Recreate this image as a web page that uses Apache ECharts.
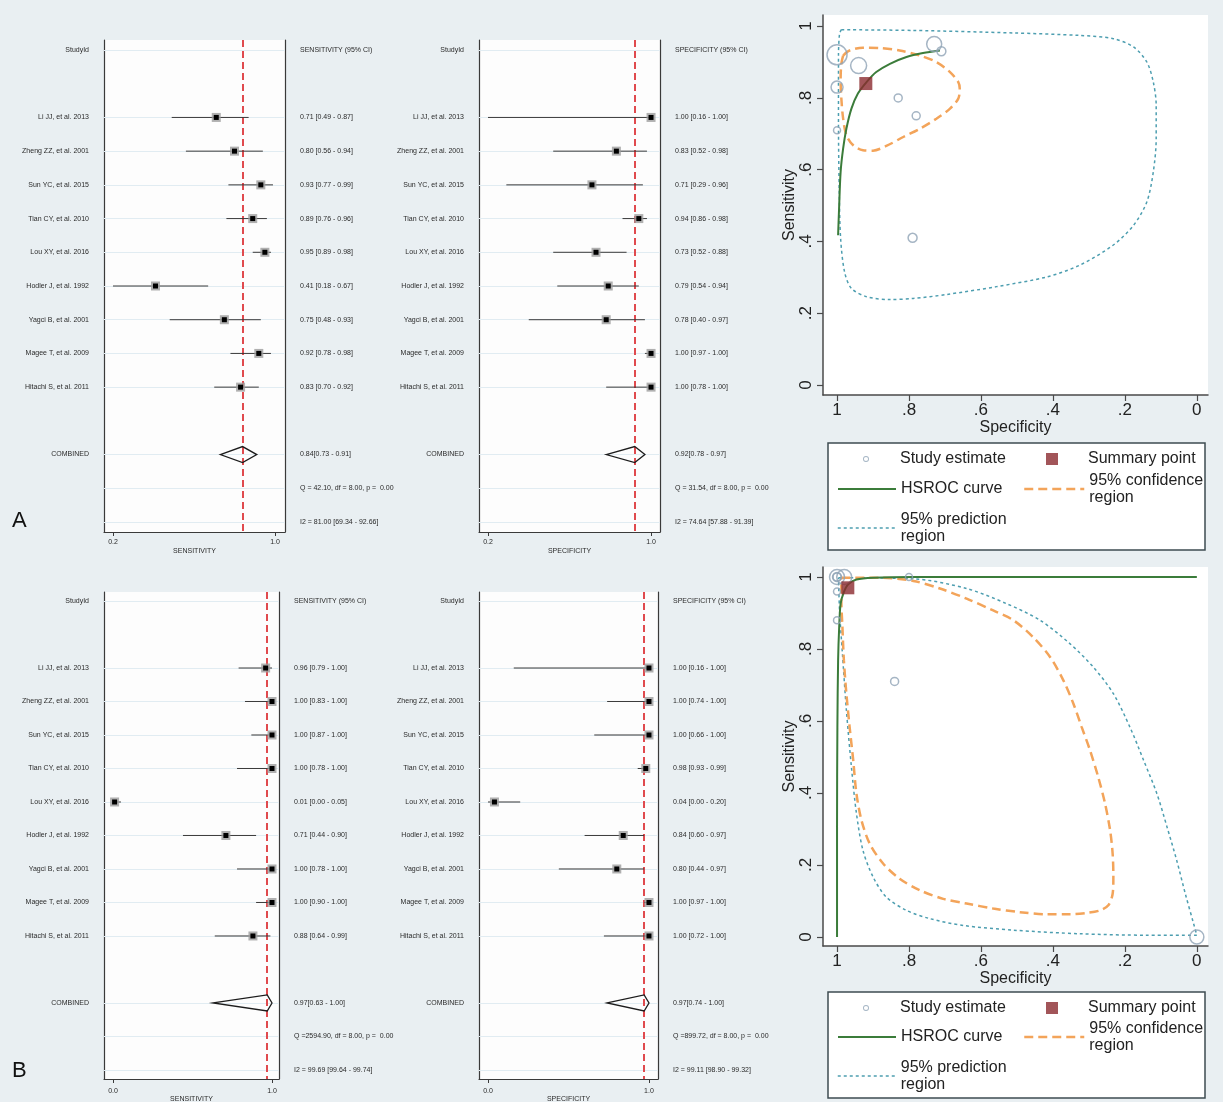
<!DOCTYPE html>
<html>
<head>
<meta charset="utf-8">
<script src="https://cdn.jsdelivr.net/npm/echarts@6/dist/echarts.min.js"></script>
<style>
html, body { margin: 0; padding: 0; background: #e9eff2; }
#main { width: 1223px; height: 1102px; }
</style>
</head>
<body>
<div id="main"></div>
<script>
// studies (rows of the forest plots)
const studies = ['Li JJ, et al. 2013', 'Zheng ZZ, et al. 2001', 'Sun YC, et al. 2015', 'Tian CY, et al. 2010',
  'Lou XY, et al. 2016', 'Hodler J, et al. 1992', 'Yagci B, et al. 2001', 'Magee T, et al. 2009', 'Hitachi S, et al. 2011'];

// A - sensitivity
const sensA = [0.71, 0.80, 0.93, 0.89, 0.95, 0.41, 0.75, 0.92, 0.83];
const sensALo = [0.49, 0.56, 0.77, 0.76, 0.89, 0.18, 0.48, 0.78, 0.70];
const sensAHi = [0.87, 0.94, 0.99, 0.96, 0.98, 0.67, 0.93, 0.98, 0.92];
const sensAPool = [0.84, 0.73, 0.91];
const sensAStats = ['Q = 42.10, df = 8.00, p =  0.00', 'I2 = 81.00 [69.34 - 92.66]'];
// A - specificity
const specA = [1.00, 0.83, 0.71, 0.94, 0.73, 0.79, 0.78, 1.00, 1.00];
const specALo = [0.16, 0.52, 0.29, 0.86, 0.52, 0.54, 0.40, 0.97, 0.78];
const specAHi = [1.00, 0.98, 0.96, 0.98, 0.88, 0.94, 0.97, 1.00, 1.00];
const specAPool = [0.92, 0.78, 0.97];
const specAStats = ['Q = 31.54, df = 8.00, p =  0.00', 'I2 = 74.64 [57.88 - 91.39]'];
// B - sensitivity
const sensB = [0.96, 1.00, 1.00, 1.00, 0.01, 0.71, 1.00, 1.00, 0.88];
const sensBLo = [0.79, 0.83, 0.87, 0.78, 0.00, 0.44, 0.78, 0.90, 0.64];
const sensBHi = [1.00, 1.00, 1.00, 1.00, 0.05, 0.90, 1.00, 1.00, 0.99];
const sensBPool = [0.97, 0.63, 1.00];
const sensBStats = ['Q =2594.90, df = 8.00, p =  0.00', 'I2 = 99.69 [99.64 - 99.74]'];
// B - specificity
const specB = [1.00, 1.00, 1.00, 0.98, 0.04, 0.84, 0.80, 1.00, 1.00];
const specBLo = [0.16, 0.74, 0.66, 0.93, 0.00, 0.60, 0.44, 0.97, 0.72];
const specBHi = [1.00, 1.00, 1.00, 0.99, 0.20, 0.97, 0.97, 1.00, 1.00];
const specBPool = [0.97, 0.74, 1.00];
const specBStats = ['Q =899.72, df = 8.00, p =  0.00', 'I2 = 99.11 [98.90 - 99.32]'];

// SROC: study points (spec, sens) as plotted, relative study weight (circle size)
const rocSpecA = [1.00, 0.83, 0.71, 0.94, 0.73, 0.79, 0.78, 1.00, 1.00];
const rocSensA = [0.71, 0.80, 0.93, 0.89, 0.95, 0.41, 0.75, 0.92, 0.83];
const weightA = [0.35, 0.4, 0.45, 0.8, 0.75, 0.45, 0.4, 1.0, 0.6];
const rocSpecB = [1.00, 1.00, 1.00, 0.98, 0.00, 0.84, 0.80, 1.00, 1.00];
const rocSensB = [0.96, 1.00, 1.00, 1.00, 0.00, 0.71, 1.00, 1.00, 0.88];
const weightB = [0.35, 0.75, 0.4, 0.75, 0.7, 0.4, 0.35, 0.45, 0.35];

// curves, [specificity, sensitivity]
const hsrocA = [[0.997, 0.417], [0.994, 0.501], [0.990, 0.594], [0.983, 0.659], [0.974, 0.714], [0.960, 0.770],
  [0.942, 0.812], [0.918, 0.844], [0.891, 0.872], [0.853, 0.895], [0.807, 0.914], [0.761, 0.925], [0.714, 0.932]];
const confA = [[0.983, 0.918], [0.965, 0.932], [0.928, 0.940], [0.881, 0.939], [0.826, 0.932], [0.770, 0.918],
  [0.724, 0.900], [0.686, 0.872], [0.663, 0.844], [0.659, 0.826], [0.663, 0.798], [0.686, 0.770], [0.724, 0.742],
  [0.770, 0.714], [0.816, 0.691], [0.863, 0.666], [0.900, 0.653], [0.928, 0.654], [0.955, 0.668], [0.974, 0.696],
  [0.983, 0.742], [0.988, 0.798], [0.990, 0.853], [0.988, 0.895], [0.983, 0.918]];
const predA = [[0.988, 0.990], [0.788, 0.988], [0.510, 0.981], [0.325, 0.974], [0.232, 0.965], [0.176, 0.942],
  [0.139, 0.900], [0.121, 0.844], [0.113, 0.779], [0.113, 0.686], [0.121, 0.594], [0.139, 0.510], [0.176, 0.445],
  [0.232, 0.390], [0.325, 0.334], [0.417, 0.301], [0.557, 0.274], [0.696, 0.252], [0.788, 0.241], [0.853, 0.238],
  [0.918, 0.246], [0.960, 0.269], [0.979, 0.315], [0.990, 0.408], [0.994, 0.547], [0.996, 0.733], [0.996, 0.918],
  [0.993, 0.979], [0.988, 0.990]];
const hsrocB = [[1.0, 0.0], [1.0, 0.306], [0.999, 0.583], [0.997, 0.769], [0.994, 0.861], [0.990, 0.926],
  [0.981, 0.958], [0.969, 0.980], [0.946, 0.993], [0.900, 0.998], [0.788, 1.0], [0.0, 1.0]];
const confB = [[0.988, 0.998], [0.881, 0.998], [0.788, 0.989], [0.714, 0.968], [0.640, 0.940], [0.566, 0.907],
  [0.510, 0.880], [0.455, 0.833], [0.408, 0.778], [0.371, 0.713], [0.343, 0.648], [0.320, 0.583], [0.297, 0.519],
  [0.274, 0.444], [0.255, 0.370], [0.241, 0.296], [0.234, 0.231], [0.232, 0.167], [0.234, 0.120], [0.246, 0.088],
  [0.269, 0.074], [0.306, 0.067], [0.353, 0.063], [0.417, 0.063], [0.492, 0.069], [0.566, 0.079], [0.640, 0.093],
  [0.705, 0.106], [0.770, 0.130], [0.826, 0.162], [0.872, 0.204], [0.909, 0.259], [0.932, 0.324], [0.946, 0.398],
  [0.955, 0.491], [0.965, 0.583], [0.974, 0.676], [0.981, 0.769], [0.985, 0.861], [0.988, 0.935], [0.988, 0.998]];
const predB = [[0.996, 0.998], [0.788, 0.995], [0.640, 0.968], [0.529, 0.926], [0.436, 0.880], [0.353, 0.815],
  [0.288, 0.750], [0.232, 0.676], [0.186, 0.583], [0.148, 0.491], [0.111, 0.398], [0.083, 0.306], [0.056, 0.213],
  [0.032, 0.120], [0.009, 0.037], [0.0, 0.005], [0.139, 0.005], [0.325, 0.009], [0.510, 0.019], [0.649, 0.032],
  [0.742, 0.051], [0.807, 0.074], [0.863, 0.111], [0.900, 0.167], [0.928, 0.241], [0.946, 0.343], [0.960, 0.472],
  [0.974, 0.630], [0.985, 0.787], [0.993, 0.907], [0.996, 0.998]];

const rocTicks = [0, 0.2, 0.4, 0.6, 0.8, 1];

const FONT = '"Liberation Sans", Arial, Helvetica, sans-serif';
const option = {
  backgroundColor: '#e9eff2',
  animation: false,
  grid: [], xAxis: [], yAxis: [], series: [], legend: [], graphic: []
};

function ci(e, lo, hi, sep) {
  return e.toFixed(2) + sep + lo.toFixed(2) + ' - ' + hi.toFixed(2) + ']';
}

function forestItem(clipLo, clipHi) {
  return function (params, api) {
    const row = api.value(3);
    const pe = api.coord([api.value(0), row]);
    const pl = api.coord([Math.max(api.value(1), clipLo), row]);
    const ph = api.coord([Math.min(api.value(2), clipHi), row]);
    if (api.value(4) === 1) {
      // pooled diamond
      return {
        type: 'polygon',
        shape: { points: [[pl[0], pl[1]], [pe[0], pe[1] - 8], [ph[0], ph[1]], [pe[0], pe[1] + 8]] },
        style: { fill: 'none', stroke: '#1c1c1c', lineWidth: 1.3 }
      };
    }
    return {
      type: 'group',
      children: [
        { type: 'line', shape: { x1: pl[0], y1: pl[1], x2: ph[0], y2: ph[1] }, style: { stroke: '#3a3a3a', lineWidth: 1 } },
        { type: 'rect', shape: { x: pe[0] - 4.5, y: pe[1] - 4.5, width: 9, height: 9 }, style: { fill: '#9c9c9c', opacity: 0.8 } },
        { type: 'rect', shape: { x: pe[0] - 2.5, y: pe[1] - 2.5, width: 5, height: 5 }, style: { fill: '#000' } }
      ]
    };
  };
}

function addForest(p) {
  const gi = option.grid.length;
  option.grid.push({ left: p.left, top: p.top, width: p.width, height: p.height, show: true,
    backgroundColor: '#fdfdfd', borderWidth: 0, containLabel: false, outerBoundsMode: 'none' });
  const xi = option.xAxis.length;
  option.xAxis.push({
    type: 'value', gridIndex: gi, min: p.xMin, max: p.xMax,
    name: p.title, nameLocation: 'middle', nameGap: p.nameGap,
    nameTextStyle: { fontSize: 7, color: '#2a2a2a', fontFamily: FONT },
    axisLine: { show: true, onZero: false, lineStyle: { color: '#3a3a3a', width: 1.2 } },
    axisTick: { show: true, customValues: p.ticks, length: 4, lineStyle: { color: '#3a3a3a' } },
    axisLabel: { customValues: p.ticks, formatter: v => v.toFixed(1), fontSize: 7, color: '#2a2a2a',
      margin: p.labelMargin, fontFamily: FONT },
    splitLine: { show: false }
  });
  const leftText = [], rightText = [];
  leftText[0] = 'StudyId';
  rightText[0] = p.header;
  studies.forEach((s, i) => {
    leftText[i + 2] = s;
    rightText[i + 2] = ci(p.est[i], p.lo[i], p.hi[i], ' [');
  });
  leftText[12] = 'COMBINED';
  rightText[12] = ci(p.pool[0], p.pool[1], p.pool[2], '[');
  rightText[13] = p.stats[0];
  rightText[14] = p.stats[1];
  const rowsL = [0, 2, 3, 4, 5, 6, 7, 8, 9, 10, 12];
  const rowsR = rowsL.concat([13, 14]);
  const yBase = {
    type: 'value', gridIndex: gi, min: p.yMin, max: p.yMax, inverse: true,
    axisTick: { show: false }, splitLine: { show: false },
    axisLine: { show: true, onZero: false, lineStyle: { color: '#3a3a3a', width: 1.2 } }
  };
  const yl = option.yAxis.length;
  option.yAxis.push(Object.assign({}, yBase, { position: 'left',
    axisLabel: { customValues: rowsL, formatter: v => leftText[Math.round(v)] || '', fontSize: 7,
      color: '#2a2a2a', margin: 15, fontFamily: FONT } }));
  option.yAxis.push(Object.assign({}, yBase, { position: 'right',
    axisLabel: { customValues: rowsR, formatter: v => rightText[Math.round(v)] || '', fontSize: 7,
      color: '#2a2a2a', margin: 15, align: 'left', fontFamily: FONT } }));

  // faint row lines + dashed pooled line
  option.series.push({
    type: 'line', xAxisIndex: xi, yAxisIndex: yl, data: [], z: 1, silent: true,
    markLine: {
      silent: true, symbol: 'none', label: { show: false }, animation: false,
      data: rowsR.map(r => ({ yAxis: r, lineStyle: { color: '#e1ecf2', width: 1, type: 'solid' } }))
        .concat([{ xAxis: p.pool[0], lineStyle: { color: '#e04a4e', width: 2, type: [7, 4] } }])
    }
  });
  const data = studies.map((s, i) => [p.est[i], p.lo[i], p.hi[i], i + 2, 0]);
  data.push([p.pool[0], p.pool[1], p.pool[2], 12, 1]);
  option.series.push({
    type: 'custom', xAxisIndex: xi, yAxisIndex: yl, z: 5, silent: true, clip: false,
    renderItem: forestItem(p.ticks[0], p.ticks[1]), data: data
  });
}

function rocLabel(v) {
  if (v === 0) return '0';
  if (v === 1) return '1';
  return String(v).replace('0.', '.');
}

const COL = { study: '#8ea3b5', summary: '#8b2a2f', hsroc: '#3b7c3a', conf: '#f3a45a', pred: '#4d9eb0' };

function addSroc(p) {
  const gi = option.grid.length;
  option.grid.push({ left: 823, top: p.top, width: 385, height: p.height, show: true,
    backgroundColor: '#ffffff', borderWidth: 0, containLabel: false, outerBoundsMode: 'none' });
  const axisCommon = {
    type: 'value', gridIndex: gi, nameLocation: 'middle',
    nameTextStyle: { fontSize: 16, color: '#222', fontFamily: FONT },
    axisLine: { show: true, onZero: false, lineStyle: { color: '#4a4a4a', width: 1.5 } },
    axisTick: { show: true, customValues: rocTicks, length: 6, lineStyle: { color: '#4a4a4a', width: 1.2 } },
    splitLine: { show: false }
  };
  const xi = option.xAxis.length;
  option.xAxis.push(Object.assign({}, axisCommon, {
    min: -0.031, max: 1.039, inverse: true, name: 'Specificity', nameGap: 25,
    axisLabel: { customValues: rocTicks, formatter: rocLabel, fontSize: 17, color: '#222', margin: 7, fontFamily: FONT }
  }));
  const yi = option.yAxis.length;
  option.yAxis.push(Object.assign({}, axisCommon, {
    min: p.yMin, max: p.yMax, name: 'Sensitivity', nameGap: 24, nameRotate: 90,
    axisLabel: { customValues: rocTicks, formatter: rocLabel, fontSize: 17, color: '#222', margin: 8, rotate: 90, fontFamily: FONT }
  }));
  const base = { xAxisIndex: xi, yAxisIndex: yi, silent: true };
  option.series.push(Object.assign({}, base, {
    name: '95% prediction region', type: 'line', data: p.pred, symbol: 'none', smooth: 0.3, z: 2,
    itemStyle: { color: COL.pred }, lineStyle: { color: COL.pred, width: 1.5, type: [3, 3] }
  }));
  option.series.push(Object.assign({}, base, {
    name: '95% confidence region', type: 'line', data: p.conf, symbol: 'none', smooth: 0.3, z: 3,
    itemStyle: { color: COL.conf }, lineStyle: { color: COL.conf, width: 2.5, type: [9, 5] }
  }));
  option.series.push(Object.assign({}, base, {
    name: 'HSROC curve', type: 'line', data: p.hsroc, symbol: 'none', smooth: 0.3, z: 4,
    itemStyle: { color: COL.hsroc }, lineStyle: { color: COL.hsroc, width: 2 }
  }));
  option.series.push(Object.assign({}, base, {
    name: 'Study estimate', type: 'scatter', z: 5,
    data: p.spec.map((s, i) => [s, p.sens[i], p.weight[i]]),
    symbol: 'circle', symbolSize: v => v[2] * 20,
    itemStyle: { color: 'rgba(255,255,255,0)', borderColor: COL.study, borderWidth: 1.5 }
  }));
  option.series.push(Object.assign({}, base, {
    name: 'Summary point', type: 'scatter', z: 6,
    data: [[p.pool[0], p.pool[1]]], symbol: 'rect', symbolSize: 13,
    itemStyle: { color: COL.summary }
  }));

  // legend box + items
  option.graphic.push({ type: 'rect', z: 0, shape: { x: 828, y: p.boxTop, width: 377, height: p.boxH },
    style: { fill: '#ffffff', stroke: '#3e4c52', lineWidth: 1.5 } });
  const txt = { fontSize: 16, color: '#222', fontFamily: FONT, lineHeight: 17 };
  const hidden = { color: 'rgba(0,0,0,0)', borderWidth: 0, opacity: 0 };
  const lg = (name, left, top, w, h, extra) => option.legend.push(Object.assign({
    left: left, top: top, padding: 0, itemWidth: w, itemHeight: h, selectedMode: false,
    data: [{ name: name }], textStyle: txt, formatter: n => n.replace(' region', '\nregion')
  }, extra || {}));
  // ring icon centred in a 58x6 box (filled annulus, no stroke)
  lg('Study estimate', 837, p.r1 - 8.5, 58, 6,
    { data: [{ name: 'Study estimate',
        icon: 'path://M0,0L0.01,0L0.01,0.01ZM58,6L57.99,6L57.99,5.99Z' +
          'M26,3A3,3,0,1,0,32,3A3,3,0,1,0,26,3Z' +
          'M26.9,3A2.1,2.1,0,1,1,31.1,3A2.1,2.1,0,1,1,26.9,3Z' }],
      symbolKeepAspect: false,
      itemStyle: { color: COL.study, borderWidth: 0 } });
  lg('Summary point', 1021, p.r1 - 8.5, 62, 12,
    { data: [{ name: 'Summary point', icon: 'path://M0,0L0.01,0L0.01,0.01ZM62,12L61.99,12L61.99,11.99ZM25,0L37,0L37,12L25,12Z' }],
      symbolKeepAspect: false, itemStyle: { color: COL.summary, borderWidth: 0 } });
  lg('HSROC curve', 837, p.r2 - 8.5, 58, 14,
    { itemStyle: hidden, lineStyle: { color: COL.hsroc, width: 2 } });
  lg('95% confidence region', 1023, p.r2 - 17, 60, 14,
    { itemStyle: hidden, lineStyle: { color: COL.conf, width: 2.5, type: [9, 5] } });
  lg('95% prediction region', 837, p.r3 - 17, 58, 14,
    { itemStyle: hidden, lineStyle: { color: COL.pred, width: 1.5, type: [3, 3] } });
}

addForest({ left: 104, top: 40, width: 181, height: 492, xMin: 0.1556, xMax: 1.0494, yMin: -0.297, yMax: 14.297,
  ticks: [0.2, 1.0], title: 'SENSITIVITY', header: 'SENSITIVITY (95% CI)', nameGap: 16, labelMargin: 6.5,
  est: sensA, lo: sensALo, hi: sensAHi, pool: sensAPool, stats: sensAStats });
addForest({ left: 479, top: 40, width: 181, height: 492, xMin: 0.1558, xMax: 1.044, yMin: -0.297, yMax: 14.297,
  ticks: [0.2, 1.0], title: 'SPECIFICITY', header: 'SPECIFICITY (95% CI)', nameGap: 16, labelMargin: 6.5,
  est: specA, lo: specALo, hi: specAHi, pool: specAPool, stats: specAStats });
addForest({ left: 104, top: 592, width: 175, height: 487, xMin: -0.0566, xMax: 1.044, yMin: -0.269, yMax: 14.27,
  ticks: [0.0, 1.0], title: 'SENSITIVITY', header: 'SENSITIVITY (95% CI)', nameGap: 15.5, labelMargin: 8.5,
  est: sensB, lo: sensBLo, hi: sensBHi, pool: sensBPool, stats: sensBStats });
addForest({ left: 479, top: 592, width: 179, height: 487, xMin: -0.056, xMax: 1.056, yMin: -0.269, yMax: 14.27,
  ticks: [0.0, 1.0], title: 'SPECIFICITY', header: 'SPECIFICITY (95% CI)', nameGap: 15.5, labelMargin: 8.5,
  est: specB, lo: specBLo, hi: specBHi, pool: specBPool, stats: specBStats });

addSroc({ top: 15, height: 380, yMin: -0.028, yMax: 1.031, spec: rocSpecA, sens: rocSensA, weight: weightA,
  pool: [specAPool[0], sensAPool[0]], hsroc: hsrocA, conf: confA, pred: predA,
  boxTop: 443, boxH: 107, r1: 459, r2: 489, r3: 528 });
addSroc({ top: 567, height: 379, yMin: -0.025, yMax: 1.0278, spec: rocSpecB, sens: rocSensB, weight: weightB,
  pool: [specBPool[0], sensBPool[0]], hsroc: hsrocB, conf: confB, pred: predB,
  boxTop: 992, boxH: 106, r1: 1008, r2: 1037, r3: 1076 });

option.graphic.push({ type: 'text', left: 12, top: 510, style: { text: 'A', fontSize: 22, fill: '#111', fontFamily: FONT } });
option.graphic.push({ type: 'text', left: 12, top: 1060, style: { text: 'B', fontSize: 22, fill: '#111', fontFamily: FONT } });

const chart = echarts.init(document.getElementById('main'));
chart.setOption(option);
</script>
</body>
</html>
